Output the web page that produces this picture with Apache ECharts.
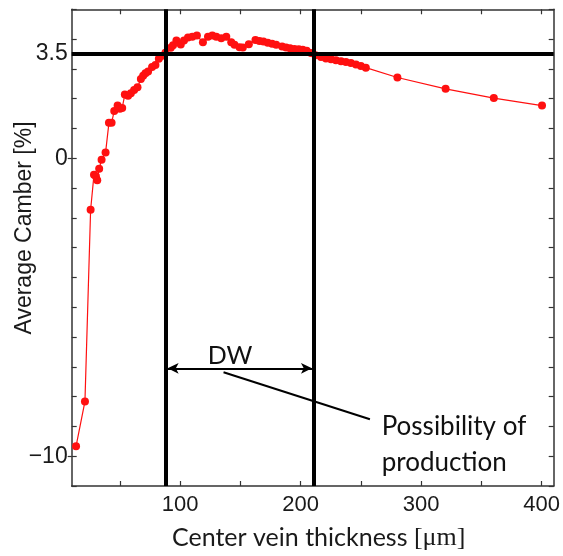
<!DOCTYPE html>
<html>
<head>
<meta charset="utf-8">
<script src="https://cdn.jsdelivr.net/npm/echarts@6/dist/echarts.min.js"></script>
<style>html,body{margin:0;padding:0;background:#fff;}#c{width:563px;height:556px;}</style>
</head>
<body>
<div id="c"></div>
<script>
// Center vein thickness [µm]
const thickness = [13.6, 21.0, 25.7, 28.5, 30.1, 31.2, 32.8, 34.8, 38.1, 40.9, 43.1, 45.3, 48.1, 50.0, 51.9,
  54.1, 56.8, 59.1, 61.8, 64.6, 67.4, 69.3, 71.2, 73.4, 76.7, 79.5, 82.3, 84.5, 87.8, 92.2, 94.1, 96.9,
  100.5, 103.2, 106.5, 110.1, 113.9, 118.9, 123.1, 126.7, 130.0, 134.1, 138.3, 142.4, 145.1, 149.3, 152.0,
  157.0, 162.5, 165.8, 169.1, 172.7, 176.3, 179.7, 184.6, 187.9, 191.2, 194.8, 198.4, 201.7, 205.0, 208.6,
  212.2, 216.9, 221.0, 225.2, 229.3, 233.5, 237.6, 241.7, 245.9, 250.0, 254.1, 280.3, 320.3, 360.3, 400.3];
// Average camber [%]
const camber = [-9.67, -8.16, -1.73, -0.55, -0.60, -0.74, -0.35, -0.05, 0.19, 1.19, 1.19, 1.59, 1.77, 1.66, 1.69,
  2.14, 2.10, 2.18, 2.29, 2.38, 2.66, 2.77, 2.85, 2.91, 3.06, 3.13, 3.34, 3.43, 3.54, 3.71, 3.79, 3.95,
  3.82, 3.95, 4.05, 4.08, 4.12, 3.89, 4.08, 4.12, 4.08, 4.03, 4.08, 3.89, 3.81, 3.73, 3.72,
  3.83, 3.97, 3.94, 3.92, 3.88, 3.84, 3.81, 3.75, 3.72, 3.69, 3.67, 3.66, 3.64, 3.61, 3.53,
  3.46, 3.40, 3.35, 3.32, 3.29, 3.26, 3.23, 3.20, 3.15, 3.10, 3.04, 2.71, 2.33, 2.02, 1.77];

const xTickValues = [50, 100, 150, 200, 250, 300, 350, 400];
const xLabelValues = [100, 200, 300, 400];
const yLabelValues = [-10, 0, 3.5];
const dwBounds = [88, 211];
const camberRef = 3.5;
const dwArrowY = -7.05;
const dwArrowX = [89.6, 209.4];
const leaderLine = [[136, -7.18], [257.5, -8.76]];

const data = thickness.map((x, i) => [x, camber[i]]);
const tickFont = 'Liberation Sans, Arial, sans-serif';
const axisColor = '#333';

const chart = echarts.init(document.getElementById('c'), null, {renderer: 'canvas'});
chart.setOption({
  animation: false,
  backgroundColor: '#fff',
  grid: {left: 71.7, right: 8, top: 9.3, bottom: 64.3},
  xAxis: [{
    type: 'value', min: 10, max: 410, position: 'bottom',
    axisLine: {show: true, onZero: false, lineStyle: {color: axisColor, width: 1.5}},
    axisTick: {show: true, inside: true, length: 5, customValues: xTickValues, lineStyle: {color: axisColor, width: 1.2}},
    axisLabel: {show: true, customValues: xLabelValues, margin: 8, fontFamily: tickFont, fontSize: 22, color: '#1a1a1a'},
    splitLine: {show: false},
    name: 'Center vein thickness {s|[μm]}',
    nameLocation: 'middle', nameGap: 39,
    nameTextStyle: {fontFamily: 'Lato, Open Sans, sans-serif', fontSize: 25, color: '#1a1a1a', padding: [0, 0, 0, 12],
      rich: {s: {fontFamily: 'Liberation Serif, DejaVu Serif, serif', fontSize: 26, color: '#1a1a1a'}}}
  }, {
    type: 'value', min: 10, max: 410, position: 'top',
    axisLine: {show: true, onZero: false, lineStyle: {color: axisColor, width: 1.5}},
    axisTick: {show: true, inside: true, length: 5, customValues: xTickValues, lineStyle: {color: axisColor, width: 1.2}},
    axisLabel: {show: false}, splitLine: {show: false}
  }],
  yAxis: [{
    type: 'value', min: -11, max: 5, interval: 1, position: 'left',
    axisLine: {show: true, onZero: false, lineStyle: {color: axisColor, width: 1.5}},
    axisTick: {show: true, inside: true, length: 5, lineStyle: {color: axisColor, width: 1.2}},
    axisLabel: {show: true, customValues: yLabelValues, margin: 4, fontFamily: tickFont, fontSize: 23, color: '#1a1a1a',
      formatter: v => v < 0 ? '\u2212' + (-v) : String(v)},
    splitLine: {show: false}
  }, {
    type: 'value', min: -11, max: 5, interval: 1, position: 'right',
    axisLine: {show: true, onZero: false, lineStyle: {color: axisColor, width: 1.5}},
    axisTick: {show: true, inside: true, length: 5, lineStyle: {color: axisColor, width: 1.2}},
    axisLabel: {show: false}, splitLine: {show: false}
  }, {
    type: 'value', min: -11, max: 5, position: 'left',
    axisLine: {show: false},
    axisTick: {show: true, inside: false, length: 4, customValues: [-10, 0], lineStyle: {color: axisColor, width: 1.2}},
    axisLabel: {show: false}, splitLine: {show: false}
  }],
  series: [{
    type: 'line', xAxisIndex: 0, yAxisIndex: 0, data: data,
    symbol: 'circle', symbolSize: 8,
    lineStyle: {color: '#ff1010', width: 1.2},
    itemStyle: {color: '#ff1010'},
    z: 3,
    markLine: {
      silent: true, symbol: 'none', label: {show: false},
      lineStyle: {color: '#000', width: 4, type: 'solid'},
      emphasis: {disabled: true},
      data: [{xAxis: dwBounds[0]}, {xAxis: dwBounds[1]}, {yAxis: camberRef}]
    }
  }, {
    type: 'line', xAxisIndex: 0, yAxisIndex: 0, data: [],
    markLine: {
      silent: true, label: {show: false}, emphasis: {disabled: true},
      symbol: ['arrow', 'arrow'], symbolSize: [8, 11],
      lineStyle: {color: '#000', width: 2, type: 'solid'},
      data: [
        [{coord: [dwArrowX[0], dwArrowY]}, {coord: [dwArrowX[1], dwArrowY]}],
        [{coord: leaderLine[0], symbol: 'none'}, {coord: leaderLine[1], symbol: 'none'}]
      ]
    }
  }],
  graphic: [
    {type: 'text', x: 25, y: 228, rotation: Math.PI / 2,
      style: {text: 'Average Camber [%]', font: '23px Liberation Sans, Arial, sans-serif', fill: '#1a1a1a', align: 'center', verticalAlign: 'middle'}},
    {type: 'text', x: 230, y: 356,
      style: {text: 'DW', font: '25px Lato, Open Sans, sans-serif', fill: '#111', align: 'center', verticalAlign: 'middle'}},
    {type: 'text', x: 381.7, y: 427,
      style: {text: 'Possibility of', font: '26px Lato, Open Sans, sans-serif', fill: '#111', align: 'left', verticalAlign: 'middle'}},
    {type: 'text', x: 381.7, y: 463,
      style: {text: 'production', font: '26px Lato, Open Sans, sans-serif', fill: '#111', align: 'left', verticalAlign: 'middle'}}
  ]
});
</script>
</body>
</html>
